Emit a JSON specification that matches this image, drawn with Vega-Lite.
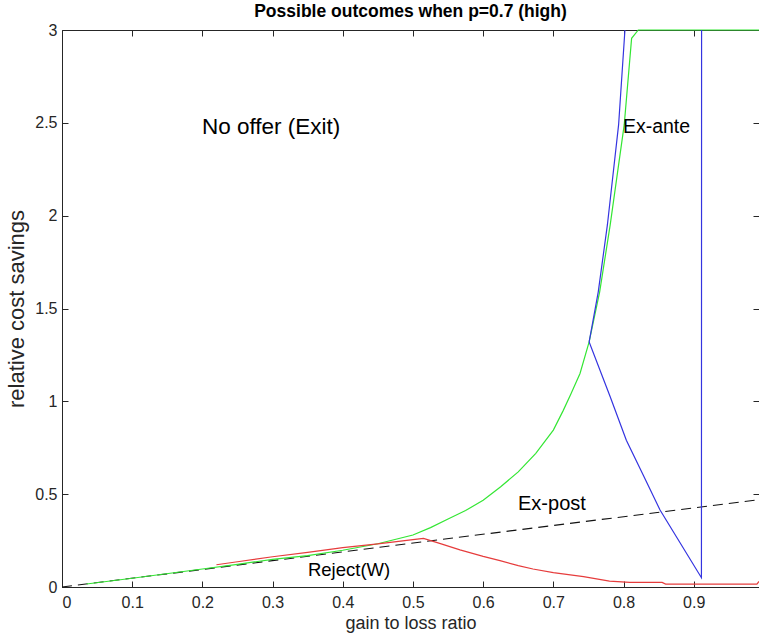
{
  "$schema": "https://vega.github.io/schema/vega-lite/v6.json",
  "width": 697,
  "height": 557,
  "autosize": "none",
  "padding": {"left": 62, "top": 30, "right": 0, "bottom": 51},
  "background": "white",
  "title": {"text": "Possible outcomes when p=0.7 (high)", "font": "Liberation Sans", "fontSize": 17.5, "fontWeight": "bold", "color": "#000000", "anchor": "middle", "offset": 2},
  "config": {
    "view": {"stroke": "#262626", "strokeWidth": 1},
    "axis": {"grid": false, "domain": false, "zindex": 1, "tickColor": "#262626", "tickWidth": 1, "tickSize": 6, "offset": -6, "labelFont": "Liberation Sans", "labelFontSize": 16, "labelColor": "#262626", "titleFont": "Liberation Sans", "titleFontSize": 18, "titleFontWeight": "normal", "titleColor": "#262626", "format": "~g"}
  },
  "datasets": {
    "expost": [
      {"x": 0, "y": 0},
      {"x": 0.993, "y": 0.47}
    ],
    "lines": [
      {"series": "green", "o": 1, "x": 0.035, "y": 0.016},
      {"series": "green", "o": 2, "x": 0.1, "y": 0.047},
      {"series": "green", "o": 3, "x": 0.2, "y": 0.097},
      {"series": "green", "o": 4, "x": 0.25, "y": 0.122},
      {"series": "green", "o": 5, "x": 0.3, "y": 0.149},
      {"series": "green", "o": 6, "x": 0.35, "y": 0.169},
      {"series": "green", "o": 7, "x": 0.4, "y": 0.198},
      {"series": "green", "o": 8, "x": 0.45, "y": 0.233},
      {"series": "green", "o": 9, "x": 0.5, "y": 0.28},
      {"series": "green", "o": 10, "x": 0.525, "y": 0.32},
      {"series": "green", "o": 11, "x": 0.55, "y": 0.366},
      {"series": "green", "o": 12, "x": 0.575, "y": 0.412},
      {"series": "green", "o": 13, "x": 0.6, "y": 0.467},
      {"series": "green", "o": 14, "x": 0.625, "y": 0.54},
      {"series": "green", "o": 15, "x": 0.65, "y": 0.62},
      {"series": "green", "o": 16, "x": 0.675, "y": 0.72},
      {"series": "green", "o": 17, "x": 0.7, "y": 0.845},
      {"series": "green", "o": 18, "x": 0.714, "y": 0.95},
      {"series": "green", "o": 19, "x": 0.725, "y": 1.04},
      {"series": "green", "o": 20, "x": 0.738, "y": 1.15},
      {"series": "green", "o": 21, "x": 0.751, "y": 1.32},
      {"series": "green", "o": 22, "x": 0.766, "y": 1.59},
      {"series": "green", "o": 23, "x": 0.781, "y": 1.95},
      {"series": "green", "o": 24, "x": 0.801, "y": 2.49},
      {"series": "green", "o": 25, "x": 0.8115, "y": 2.955},
      {"series": "green", "o": 26, "x": 0.821, "y": 3.0},
      {"series": "green", "o": 27, "x": 0.993, "y": 3.0},

      {"series": "red", "o": 1, "x": 0.22, "y": 0.12},
      {"series": "red", "o": 2, "x": 0.25, "y": 0.136},
      {"series": "red", "o": 3, "x": 0.3, "y": 0.163},
      {"series": "red", "o": 4, "x": 0.35, "y": 0.187},
      {"series": "red", "o": 5, "x": 0.4, "y": 0.212},
      {"series": "red", "o": 6, "x": 0.45, "y": 0.232},
      {"series": "red", "o": 7, "x": 0.5, "y": 0.255},
      {"series": "red", "o": 8, "x": 0.515, "y": 0.262},
      {"series": "red", "o": 9, "x": 0.538, "y": 0.235},
      {"series": "red", "o": 10, "x": 0.567, "y": 0.2},
      {"series": "red", "o": 11, "x": 0.6, "y": 0.165},
      {"series": "red", "o": 12, "x": 0.624, "y": 0.142},
      {"series": "red", "o": 13, "x": 0.65, "y": 0.115},
      {"series": "red", "o": 14, "x": 0.671, "y": 0.097},
      {"series": "red", "o": 15, "x": 0.7, "y": 0.077},
      {"series": "red", "o": 16, "x": 0.743, "y": 0.056},
      {"series": "red", "o": 17, "x": 0.78, "y": 0.032},
      {"series": "red", "o": 18, "x": 0.809, "y": 0.025},
      {"series": "red", "o": 19, "x": 0.855, "y": 0.025},
      {"series": "red", "o": 20, "x": 0.86, "y": 0.016},
      {"series": "red", "o": 21, "x": 0.99, "y": 0.016},
      {"series": "red", "o": 22, "x": 0.993, "y": 0.03},

      {"series": "blue", "o": 1, "x": 0.802, "y": 3.0},
      {"series": "blue", "o": 2, "x": 0.793, "y": 2.49},
      {"series": "blue", "o": 3, "x": 0.777, "y": 1.95},
      {"series": "blue", "o": 4, "x": 0.764, "y": 1.59},
      {"series": "blue", "o": 5, "x": 0.751, "y": 1.32},
      {"series": "blue", "o": 6, "x": 0.781, "y": 1.025},
      {"series": "blue", "o": 7, "x": 0.804, "y": 0.79},
      {"series": "blue", "o": 8, "x": 0.828, "y": 0.603},
      {"series": "blue", "o": 9, "x": 0.852, "y": 0.415},
      {"series": "blue", "o": 10, "x": 0.911, "y": 0.05},
      {"series": "blue", "o": 11, "x": 0.9112, "y": 3.0}
    ],
    "labels": [
      {"text": "No offer (Exit)", "x": 0.298, "y": 2.478, "size": 22.5},
      {"text": "Ex-ante", "x": 0.847, "y": 2.478, "size": 19.5},
      {"text": "Ex-post", "x": 0.698, "y": 0.447, "size": 20},
      {"text": "Reject(W)", "x": 0.409, "y": 0.092, "size": 18.5}
    ]
  },
  "layer": [
    {
      "data": {"name": "expost"},
      "mark": {"type": "line", "strokeWidth": 1.1, "strokeDash": [10, 6], "color": "#111111"},
      "encoding": {
        "x": {"field": "x", "type": "quantitative", "scale": {"domain": [0, 0.993], "nice": false, "zero": false}, "axis": {"orient": "bottom", "title": "gain to loss ratio", "values": [0, 0.1, 0.2, 0.3, 0.4, 0.5, 0.6, 0.7, 0.8, 0.9], "labelPadding": 7, "titlePadding": 4}},
        "y": {"field": "y", "type": "quantitative", "scale": {"domain": [0, 3], "nice": false}, "axis": {"orient": "left", "title": "relative cost savings", "titleFontSize": 22, "values": [0, 0.5, 1, 1.5, 2, 2.5, 3], "labelPadding": 5, "titlePadding": 6}}
      }
    },
    {
      "data": {"name": "lines"},
      "mark": {"type": "line", "strokeWidth": 1.2},
      "encoding": {
        "x": {"field": "x", "type": "quantitative", "axis": null},
        "y": {"field": "y", "type": "quantitative", "axis": null},
        "color": {"field": "series", "type": "nominal", "scale": {"domain": ["green", "red", "blue"], "range": ["#33e633", "#e63c3c", "#3434e0"]}, "legend": null},
        "order": {"field": "o", "type": "quantitative"}
      }
    },
    {
      "data": {"name": "labels"},
      "mark": {"type": "text", "font": "Liberation Sans", "color": "#000000", "align": "center", "baseline": "middle"},
      "encoding": {
        "x": {"field": "x", "type": "quantitative", "axis": {"orient": "top", "title": null, "labels": false, "values": [0, 0.1, 0.2, 0.3, 0.4, 0.5, 0.6, 0.7, 0.8, 0.9]}},
        "y": {"field": "y", "type": "quantitative", "axis": {"orient": "right", "title": null, "labels": false, "values": [0, 0.5, 1, 1.5, 2, 2.5, 3]}},
        "text": {"field": "text"},
        "size": {"field": "size", "type": "quantitative", "scale": null}
      }
    }
  ],
  "resolve": {"axis": {"x": "independent", "y": "independent"}}
}
